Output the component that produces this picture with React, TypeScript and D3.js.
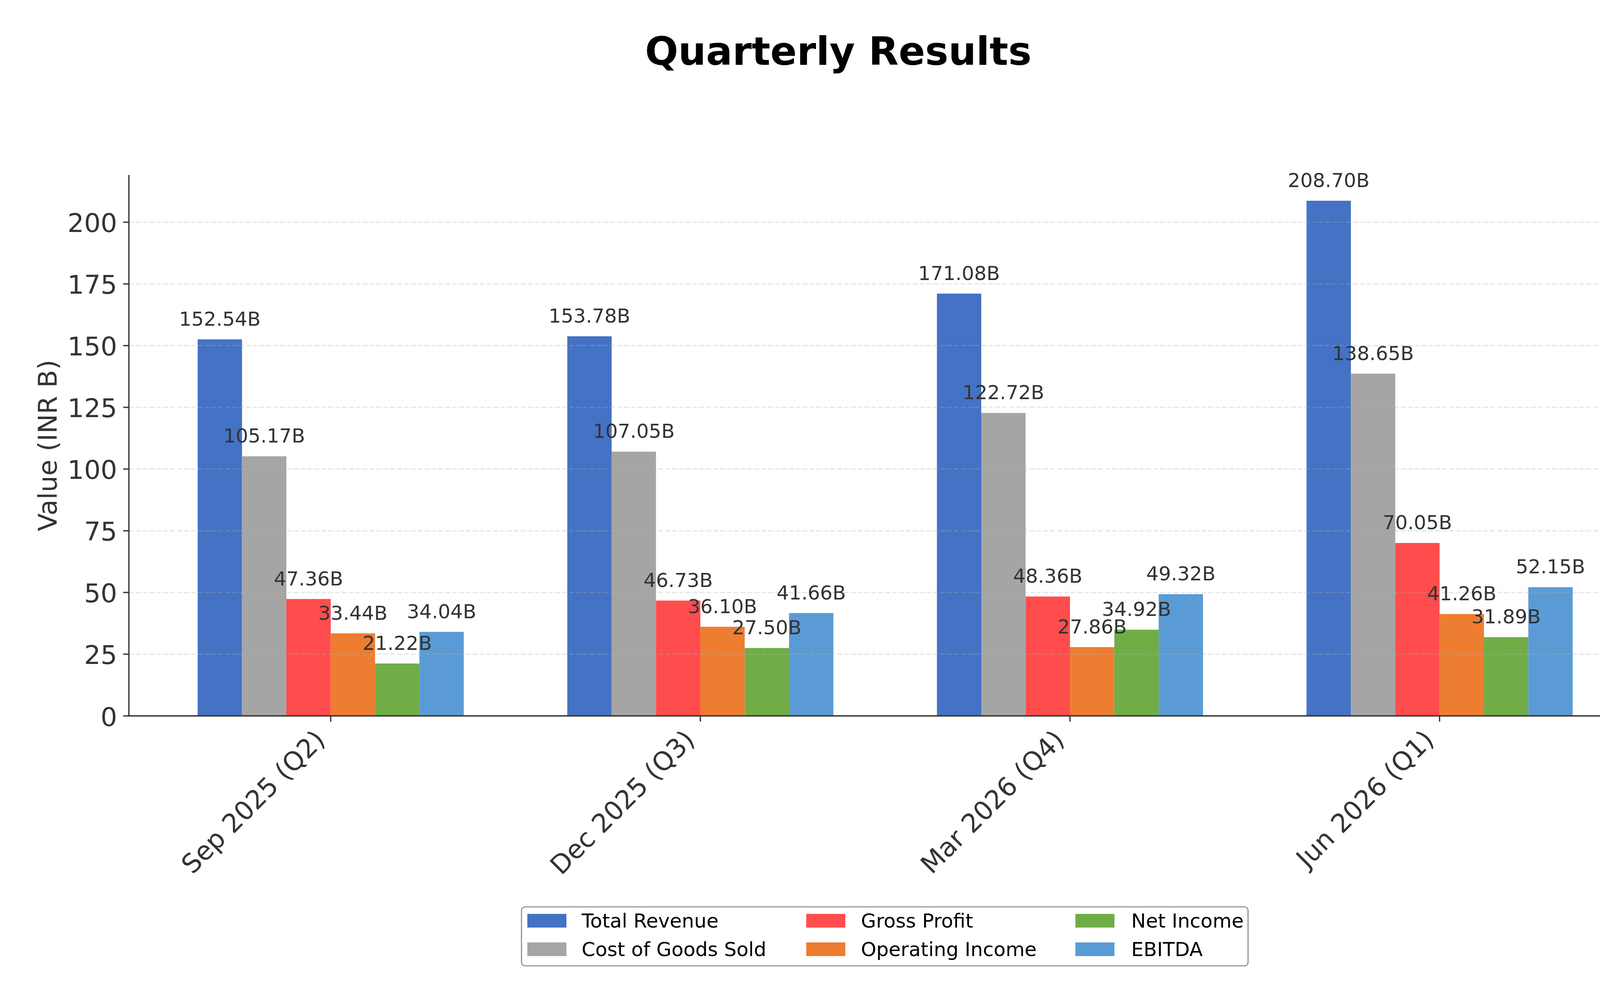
import React from "react";
import * as d3 from "d3";

const categories = ["Sep 2025 (Q2)", "Dec 2025 (Q3)", "Mar 2026 (Q4)", "Jun 2026 (Q1)"];
const seriesNames = ["Total Revenue", "Cost of Goods Sold", "Gross Profit", "Operating Income", "Net Income", "EBITDA"];
const totalRevenue = [152.54, 153.78, 171.08, 208.7];
const costOfGoods = [105.17, 107.05, 122.72, 138.65];
const grossProfit = [47.36, 46.73, 48.36, 70.05];
const operatingIncome = [33.44, 36.1, 27.86, 41.26];
const netIncome = [21.22, 27.5, 34.92, 31.89];
const ebitda = [34.04, 41.66, 49.32, 52.15];
const seriesColors = ["#4472C4", "#A5A5A5", "#FF4C4C", "#ED7D31", "#70AD47", "#5B9BD5"];
const yTicks = [0, 25, 50, 75, 100, 125, 150, 175, 200];

const seriesValues = [totalRevenue, costOfGoods, grossProfit, operatingIncome, netIncome, ebitda];

const W = 4291;
const H = 2563;
const FONT = "'DejaVu Sans', sans-serif";

export default function App() {
  const left = 330;
  const right = 4202;
  const top = 448;
  const bottom = 1833;
  const barW = 0.12;
  const nS = seriesNames.length;
  const xMin = -barW * nS / 2;
  const xMax = categories.length - 1 + barW * nS / 2;
  const pad = (xMax - xMin) * 0.05;
  const x = d3.scaleLinear().domain([xMin - pad, xMax + pad]).range([left, right]);
  const yMax = d3.max(seriesValues.flat())! * 1.05;
  const y = d3.scaleLinear().domain([0, yMax]).range([bottom, top]);
  const bw = x(barW) - x(0);
  const dark = "#333333";

  const legendCols = [1350, 2064, 2753];
  const legendTextX = [1489, 2204, 2896];
  const legendRows = [2375, 2448];

  return (
    <svg
      width={W}
      height={H}
      style={{ display: "block", background: "#fff", position: "absolute", left: 0, top: 0 }}
      fontFamily={FONT}
    >
      <rect x={0} y={0} width={W} height={H} fill="#fff" />
      <text x={2146} y={166} textAnchor="middle" fontSize={100} fontWeight="bold" fill="#000">
        Quarterly Results
      </text>

      {/* bars */}
      {seriesValues.map((vals, si) =>
        vals.map((v, ci) => {
          const cx = ci + (si - (nS - 1) / 2) * barW;
          const x0 = x(cx - barW / 2);
          return (
            <rect key={`b-${si}-${ci}`} x={x0} y={y(v)} width={bw} height={y(0) - y(v)} fill={seriesColors[si]} />
          );
        })
      )}

      {/* grid over bars */}
      {yTicks.slice(1).map((t) => (
        <line
          key={`g-${t}`}
          x1={left}
          x2={right}
          y1={y(t)}
          y2={y(t)}
          stroke="#b0b0b0"
          strokeOpacity={0.3}
          strokeWidth={3.3}
          strokeDasharray="12.3 5.3"
        />
      ))}

      {/* bar labels */}
      {seriesValues.map((vals, si) =>
        vals.map((v, ci) => {
          const cx = ci + (si - (nS - 1) / 2) * barW;
          return (
            <text key={`l-${si}-${ci}`} x={x(cx)} y={y(v) - 35} textAnchor="middle" fontSize={50} fill={dark}>
              {v.toFixed(2)}B
            </text>
          );
        })
      )}

      {/* spines */}
      <line x1={left} x2={left} y1={top} y2={bottom + 1.6} stroke={dark} strokeWidth={3.3} />
      <line x1={left - 1.6} x2={right} y1={bottom} y2={bottom} stroke={dark} strokeWidth={3.3} />

      {/* y ticks */}
      {yTicks.map((t) => (
        <g key={`yt-${t}`}>
          <line x1={left - 14.6} x2={left} y1={y(t)} y2={y(t)} stroke={dark} strokeWidth={3.3} />
          <text x={300} y={y(t) + 25.5} textAnchor="end" fontSize={66.7} fill={dark}>
            {t}
          </text>
        </g>
      ))}

      {/* x ticks */}
      {categories.map((c, i) => {
        const tx = x(i);
        const px = tx - 11;
        const py = bottom + 65;
        return (
          <g key={`xt-${i}`}>
            <line x1={tx} x2={tx} y1={bottom} y2={bottom + 14.6} stroke={dark} strokeWidth={3.3} />
            <text x={px} y={py} textAnchor="end" fontSize={66.7} fill={dark} transform={`rotate(-45 ${px} ${py})`}>
              {c}
            </text>
          </g>
        );
      })}

      {/* y label */}
      <text
        x={145}
        y={(top + bottom) / 2}
        textAnchor="middle"
        fontSize={66.7}
        fill={dark}
        transform={`rotate(-90 145 ${(top + bottom) / 2})`}
      >
        Value (INR B)
      </text>

      {/* legend */}
      <rect x={1335} y={2322} width={1860} height={151} rx={9} ry={9} fill="#fff" stroke="#888888" strokeWidth={2.7} />
      {seriesNames.map((n, i) => {
        const col = Math.floor(i / 2);
        const row = i % 2;
        return (
          <g key={`lg-${i}`}>
            <rect x={legendCols[col]} y={legendRows[row] - 35} width={100} height={35} fill={seriesColors[i]} />
            <text x={legendTextX[col]} y={legendRows[row]} fontSize={50} fill="#000">
              {n}
            </text>
          </g>
        );
      })}
    </svg>
  );
}
